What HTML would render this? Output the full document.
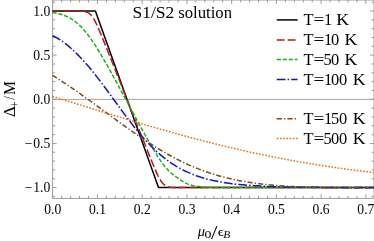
<!DOCTYPE html>
<html><head><meta charset="utf-8"><title>plot</title>
<style>html,body{margin:0;padding:0;background:#fff;}svg{display:block;will-change:transform;}text{font-family:"Liberation Serif",serif;fill:#000;}</style></head>
<body>
<svg width="374" height="241" viewBox="0 0 374 241">
<rect x="0" y="0" width="374" height="241" fill="#fff"/>
<defs><clipPath id="c"><rect x="52.00" y="0.00" width="322.00" height="198.40"/></clipPath></defs>
<line x1="52.60" y1="99.40" x2="374" y2="99.40" stroke="#a6a6a6" stroke-width="1"/>
<g stroke="#9c9c9c" stroke-width="1" fill="none">
<rect x="52.60" y="0.00" width="321.40" height="198.40"/>
<path d="M52.70 198.40 v-4.00 M52.70 0.00 v4.00 M61.65 198.40 v-2.50 M61.65 0.00 v2.50 M70.60 198.40 v-2.50 M70.60 0.00 v2.50 M79.54 198.40 v-2.50 M79.54 0.00 v2.50 M88.49 198.40 v-2.50 M88.49 0.00 v2.50 M97.44 198.40 v-4.00 M97.44 0.00 v4.00 M106.39 198.40 v-2.50 M106.39 0.00 v2.50 M115.34 198.40 v-2.50 M115.34 0.00 v2.50 M124.28 198.40 v-2.50 M124.28 0.00 v2.50 M133.23 198.40 v-2.50 M133.23 0.00 v2.50 M142.18 198.40 v-4.00 M142.18 0.00 v4.00 M151.13 198.40 v-2.50 M151.13 0.00 v2.50 M160.08 198.40 v-2.50 M160.08 0.00 v2.50 M169.02 198.40 v-2.50 M169.02 0.00 v2.50 M177.97 198.40 v-2.50 M177.97 0.00 v2.50 M186.92 198.40 v-4.00 M186.92 0.00 v4.00 M195.87 198.40 v-2.50 M195.87 0.00 v2.50 M204.82 198.40 v-2.50 M204.82 0.00 v2.50 M213.76 198.40 v-2.50 M213.76 0.00 v2.50 M222.71 198.40 v-2.50 M222.71 0.00 v2.50 M231.66 198.40 v-4.00 M231.66 0.00 v4.00 M240.61 198.40 v-2.50 M240.61 0.00 v2.50 M249.56 198.40 v-2.50 M249.56 0.00 v2.50 M258.50 198.40 v-2.50 M258.50 0.00 v2.50 M267.45 198.40 v-2.50 M267.45 0.00 v2.50 M276.40 198.40 v-4.00 M276.40 0.00 v4.00 M285.35 198.40 v-2.50 M285.35 0.00 v2.50 M294.30 198.40 v-2.50 M294.30 0.00 v2.50 M303.24 198.40 v-2.50 M303.24 0.00 v2.50 M312.19 198.40 v-2.50 M312.19 0.00 v2.50 M321.14 198.40 v-4.00 M321.14 0.00 v4.00 M330.09 198.40 v-2.50 M330.09 0.00 v2.50 M339.04 198.40 v-2.50 M339.04 0.00 v2.50 M347.98 198.40 v-2.50 M347.98 0.00 v2.50 M356.93 198.40 v-2.50 M356.93 0.00 v2.50 M365.88 198.40 v-4.00 M365.88 0.00 v4.00 M52.60 196.43 h2.50 M374.00 196.43 h-2.50 M52.60 187.60 h4.00 M374.00 187.60 h-4.00 M52.60 178.77 h2.50 M374.00 178.77 h-2.50 M52.60 169.94 h2.50 M374.00 169.94 h-2.50 M52.60 161.11 h2.50 M374.00 161.11 h-2.50 M52.60 152.28 h2.50 M374.00 152.28 h-2.50 M52.60 143.45 h4.00 M374.00 143.45 h-4.00 M52.60 134.62 h2.50 M374.00 134.62 h-2.50 M52.60 125.79 h2.50 M374.00 125.79 h-2.50 M52.60 116.96 h2.50 M374.00 116.96 h-2.50 M52.60 108.13 h2.50 M374.00 108.13 h-2.50 M52.60 99.30 h4.00 M374.00 99.30 h-4.00 M52.60 90.47 h2.50 M374.00 90.47 h-2.50 M52.60 81.64 h2.50 M374.00 81.64 h-2.50 M52.60 72.81 h2.50 M374.00 72.81 h-2.50 M52.60 63.98 h2.50 M374.00 63.98 h-2.50 M52.60 55.15 h4.00 M374.00 55.15 h-4.00 M52.60 46.32 h2.50 M374.00 46.32 h-2.50 M52.60 37.49 h2.50 M374.00 37.49 h-2.50 M52.60 28.66 h2.50 M374.00 28.66 h-2.50 M52.60 19.83 h2.50 M374.00 19.83 h-2.50 M52.60 11.00 h4.00 M374.00 11.00 h-4.00 M52.60 2.17 h2.50 M374.00 2.17 h-2.50"/>
</g>
<g clip-path="url(#c)" fill="none" stroke-width="1.50" stroke-linejoin="round">
<path d="M52.50 11.00 L95.40 11.00 L158.52 187.60 L379.76 187.60" stroke="#000000"/>
<path d="M52.50 11.00 L54.32 11.00 L56.13 11.00 L57.95 11.00 L59.76 11.00 L61.58 11.00 L63.39 11.00 L65.21 11.00 L67.03 11.00 L68.84 11.00 L70.66 11.00 L72.47 11.01 L74.29 11.01 L76.10 11.03 L77.92 11.05 L79.74 11.10 L81.55 11.19 L83.37 11.35 L85.18 11.66 L87.00 12.20 L88.81 13.13 L90.63 14.62 L92.45 16.81 L94.26 19.70 L96.08 23.20 L97.89 27.13 L99.71 31.33 L101.52 35.69 L103.34 40.15 L105.16 44.65 L106.97 49.17 L108.79 53.71 L110.60 58.26 L112.42 62.81 L114.24 67.37 L116.05 71.92 L117.87 76.48 L119.68 81.03 L121.50 85.59 L123.31 90.14 L125.13 94.70 L126.95 99.26 L128.76 103.81 L130.58 108.37 L132.39 112.92 L134.21 117.48 L136.02 122.04 L137.84 126.59 L139.66 131.15 L141.47 135.70 L143.29 140.25 L145.10 144.80 L146.92 149.34 L148.73 153.87 L150.55 158.37 L152.37 162.82 L154.18 167.19 L156.00 171.39 L157.81 175.33 L159.63 178.83 L161.44 181.74 L163.26 183.94 L165.08 185.44 L166.89 186.39 L168.71 186.94 L170.52 187.24 L172.34 187.41 L174.15 187.50 L175.97 187.55 L177.79 187.57 L179.60 187.59 L181.42 187.59 L183.23 187.60 L185.05 187.60 L186.86 187.60 L188.68 187.60 L190.50 187.60 L192.31 187.60 L194.13 187.60 L195.94 187.60 L197.76 187.60 L199.57 187.60 L201.39 187.60 L203.21 187.60 L205.02 187.60 L206.84 187.60 L208.65 187.60 L210.47 187.60 L212.29 187.60 L214.10 187.60 L215.92 187.60 L217.73 187.60 L219.55 187.60 L221.36 187.60 L223.18 187.60 L225.00 187.60 L226.81 187.60 L228.63 187.60 L230.44 187.60 L232.26 187.60 L234.07 187.60 L235.89 187.60 L237.71 187.60 L239.52 187.60 L241.34 187.60 L243.15 187.60 L244.97 187.60 L246.78 187.60 L248.60 187.60 L250.42 187.60 L252.23 187.60 L254.05 187.60 L255.86 187.60 L257.68 187.60 L259.49 187.60 L261.31 187.60 L263.13 187.60 L264.94 187.60 L266.76 187.60 L268.57 187.60 L270.39 187.60 L272.20 187.60 L274.02 187.60 L275.84 187.60 L277.65 187.60 L279.47 187.60 L281.28 187.60 L283.10 187.60 L284.91 187.60 L286.73 187.60 L288.55 187.60 L290.36 187.60 L292.18 187.60 L293.99 187.60 L295.81 187.60 L297.62 187.60 L299.44 187.60 L301.26 187.60 L303.07 187.60 L304.89 187.60 L306.70 187.60 L308.52 187.60 L310.34 187.60 L312.15 187.60 L313.97 187.60 L315.78 187.60 L317.60 187.60 L319.41 187.60 L321.23 187.60 L323.05 187.60 L324.86 187.60 L326.68 187.60 L328.49 187.60 L330.31 187.60 L332.12 187.60 L333.94 187.60 L335.76 187.60 L337.57 187.60 L339.39 187.60 L341.20 187.60 L343.02 187.60 L344.83 187.60 L346.65 187.60 L348.47 187.60 L350.28 187.60 L352.10 187.60 L353.91 187.60 L355.73 187.60 L357.54 187.60 L359.36 187.60 L361.18 187.60 L362.99 187.60 L364.81 187.60 L366.62 187.60 L368.44 187.60 L370.25 187.60 L372.07 187.60 L373.89 187.60 L375.70 187.60 L377.52 187.60" stroke="#bc1a1a" stroke-dasharray="8 2.9"/>
<path d="M52.50 12.58 L54.32 12.86 L56.13 13.19 L57.95 13.57 L59.76 14.01 L61.58 14.52 L63.39 15.11 L65.21 15.79 L67.03 16.57 L68.84 17.45 L70.66 18.45 L72.47 19.58 L74.29 20.84 L76.10 22.23 L77.92 23.77 L79.74 25.46 L81.55 27.29 L83.37 29.26 L85.18 31.38 L87.00 33.64 L88.81 36.02 L90.63 38.52 L92.45 41.14 L94.26 43.86 L96.08 46.67 L97.89 49.56 L99.71 52.53 L101.52 55.57 L103.34 58.66 L105.16 61.80 L106.97 64.99 L108.79 68.21 L110.60 71.47 L112.42 74.75 L114.24 78.05 L116.05 81.38 L117.87 84.72 L119.68 88.07 L121.50 91.43 L123.31 94.80 L125.13 98.18 L126.95 101.56 L128.76 104.94 L130.58 108.32 L132.39 111.70 L134.21 115.07 L136.02 118.43 L137.84 121.78 L139.66 125.12 L141.47 128.44 L143.29 131.74 L145.10 135.01 L146.92 138.24 L148.73 141.44 L150.55 144.59 L152.37 147.69 L154.18 150.72 L156.00 153.68 L157.81 156.55 L159.63 159.30 L161.44 161.94 L163.26 164.42 L165.08 166.72 L166.89 168.83 L168.71 170.73 L170.52 172.45 L172.34 173.99 L174.15 175.42 L175.97 176.77 L177.79 178.08 L179.60 179.35 L181.42 180.57 L183.23 181.72 L185.05 182.74 L186.86 183.62 L188.68 184.36 L190.50 184.96 L192.31 185.45 L194.13 185.83 L195.94 186.14 L197.76 186.40 L199.57 186.60 L201.39 186.77 L203.21 186.92 L205.02 187.03 L206.84 187.13 L208.65 187.21 L210.47 187.28 L212.29 187.33 L214.10 187.38 L215.92 187.42 L217.73 187.45 L219.55 187.48 L221.36 187.50 L223.18 187.51 L225.00 187.53 L226.81 187.54 L228.63 187.55 L230.44 187.56 L232.26 187.57 L234.07 187.57 L235.89 187.58 L237.71 187.58 L239.52 187.58 L241.34 187.59 L243.15 187.59 L244.97 187.59 L246.78 187.59 L248.60 187.59 L250.42 187.60 L252.23 187.60 L254.05 187.60 L255.86 187.60 L257.68 187.60 L259.49 187.60 L261.31 187.60 L263.13 187.60 L264.94 187.60 L266.76 187.60 L268.57 187.60 L270.39 187.60 L272.20 187.60 L274.02 187.60 L275.84 187.60 L277.65 187.60 L279.47 187.60 L281.28 187.60 L283.10 187.60 L284.91 187.60 L286.73 187.60 L288.55 187.60 L290.36 187.60 L292.18 187.60 L293.99 187.60 L295.81 187.60 L297.62 187.60 L299.44 187.60 L301.26 187.60 L303.07 187.60 L304.89 187.60 L306.70 187.60 L308.52 187.60 L310.34 187.60 L312.15 187.60 L313.97 187.60 L315.78 187.60 L317.60 187.60 L319.41 187.60 L321.23 187.60 L323.05 187.60 L324.86 187.60 L326.68 187.60 L328.49 187.60 L330.31 187.60 L332.12 187.60 L333.94 187.60 L335.76 187.60 L337.57 187.60 L339.39 187.60 L341.20 187.60 L343.02 187.60 L344.83 187.60 L346.65 187.60 L348.47 187.60 L350.28 187.60 L352.10 187.60 L353.91 187.60 L355.73 187.60 L357.54 187.60 L359.36 187.60 L361.18 187.60 L362.99 187.60 L364.81 187.60 L366.62 187.60 L368.44 187.60 L370.25 187.60 L372.07 187.60 L373.89 187.60 L375.70 187.60 L377.52 187.60" stroke="#14b414" stroke-dasharray="4.2 1.8"/>
<path d="M52.50 35.75 L54.32 36.55 L56.13 37.47 L57.95 38.50 L59.76 39.62 L61.58 40.83 L63.39 42.11 L65.21 43.48 L67.03 44.91 L68.84 46.41 L70.66 47.98 L72.47 49.61 L74.29 51.30 L76.10 53.05 L77.92 54.86 L79.74 56.73 L81.55 58.65 L83.37 60.62 L85.18 62.65 L87.00 64.72 L88.81 66.85 L90.63 69.02 L92.45 71.24 L94.26 73.50 L96.08 75.79 L97.89 78.12 L99.71 80.49 L101.52 82.89 L103.34 85.31 L105.16 87.76 L106.97 90.22 L108.79 92.70 L110.60 95.20 L112.42 97.70 L114.24 100.20 L116.05 102.71 L117.87 105.21 L119.68 107.70 L121.50 110.19 L123.31 112.65 L125.13 115.10 L126.95 117.52 L128.76 119.92 L130.58 122.29 L132.39 124.62 L134.21 126.92 L136.02 129.18 L137.84 131.40 L139.66 133.57 L141.47 135.70 L143.29 137.78 L145.10 139.81 L146.92 141.79 L148.73 143.71 L150.55 145.58 L152.37 147.40 L154.18 149.16 L156.00 150.87 L157.81 152.52 L159.63 154.12 L161.44 155.66 L163.26 157.15 L165.08 158.58 L166.89 159.96 L168.71 161.29 L170.52 162.56 L172.34 163.78 L174.15 164.95 L175.97 166.08 L177.79 167.15 L179.60 168.18 L181.42 169.17 L183.23 170.11 L185.05 171.01 L186.86 171.86 L188.68 172.68 L190.50 173.46 L192.31 174.20 L194.13 174.91 L195.94 175.58 L197.76 176.22 L199.57 176.83 L201.39 177.40 L203.21 177.95 L205.02 178.47 L206.84 178.97 L208.65 179.44 L210.47 179.88 L212.29 180.30 L214.10 180.70 L215.92 181.08 L217.73 181.44 L219.55 181.78 L221.36 182.10 L223.18 182.41 L225.00 182.70 L226.81 182.97 L228.63 183.23 L230.44 183.47 L232.26 183.70 L234.07 183.92 L235.89 184.13 L237.71 184.32 L239.52 184.51 L241.34 184.68 L243.15 184.84 L244.97 185.00 L246.78 185.15 L248.60 185.29 L250.42 185.42 L252.23 185.54 L254.05 185.66 L255.86 185.77 L257.68 185.87 L259.49 185.97 L261.31 186.06 L263.13 186.15 L264.94 186.23 L266.76 186.31 L268.57 186.38 L270.39 186.45 L272.20 186.52 L274.02 186.58 L275.84 186.64 L277.65 186.69 L279.47 186.74 L281.28 186.79 L283.10 186.84 L284.91 186.88 L286.73 186.92 L288.55 186.96 L290.36 187.00 L292.18 187.03 L293.99 187.07 L295.81 187.10 L297.62 187.13 L299.44 187.15 L301.26 187.18 L303.07 187.20 L304.89 187.23 L306.70 187.25 L308.52 187.27 L310.34 187.29 L312.15 187.30 L313.97 187.32 L315.78 187.34 L317.60 187.35 L319.41 187.37 L321.23 187.38 L323.05 187.39 L324.86 187.40 L326.68 187.42 L328.49 187.43 L330.31 187.44 L332.12 187.45 L333.94 187.45 L335.76 187.46 L337.57 187.47 L339.39 187.48 L341.20 187.49 L343.02 187.49 L344.83 187.50 L346.65 187.50 L348.47 187.51 L350.28 187.51 L352.10 187.52 L353.91 187.52 L355.73 187.53 L357.54 187.53 L359.36 187.54 L361.18 187.54 L362.99 187.54 L364.81 187.55 L366.62 187.55 L368.44 187.55 L370.25 187.56 L372.07 187.56 L373.89 187.56 L375.70 187.56 L377.52 187.56" stroke="#1414c8" stroke-dasharray="8.8 2.1 1.5 2.1"/>
<path d="M52.50 75.33 L54.32 76.47 L56.13 77.62 L57.95 78.78 L59.76 79.95 L61.58 81.14 L63.39 82.33 L65.21 83.54 L67.03 84.75 L68.84 85.97 L70.66 87.20 L72.47 88.45 L74.29 89.70 L76.10 90.95 L77.92 92.22 L79.74 93.49 L81.55 94.77 L83.37 96.06 L85.18 97.35 L87.00 98.65 L88.81 99.96 L90.63 101.26 L92.45 102.58 L94.26 103.90 L96.08 105.22 L97.89 106.54 L99.71 107.87 L101.52 109.20 L103.34 110.53 L105.16 111.86 L106.97 113.19 L108.79 114.52 L110.60 115.85 L112.42 117.18 L114.24 118.51 L116.05 119.84 L117.87 121.16 L119.68 122.48 L121.50 123.80 L123.31 125.11 L125.13 126.41 L126.95 127.71 L128.76 129.01 L130.58 130.30 L132.39 131.57 L134.21 132.85 L136.02 134.11 L137.84 135.36 L139.66 136.60 L141.47 137.84 L143.29 139.06 L145.10 140.27 L146.92 141.47 L148.73 142.66 L150.55 143.83 L152.37 144.99 L154.18 146.14 L156.00 147.27 L157.81 148.39 L159.63 149.49 L161.44 150.58 L163.26 151.65 L165.08 152.70 L166.89 153.74 L168.71 154.76 L170.52 155.76 L172.34 156.75 L174.15 157.72 L175.97 158.67 L177.79 159.60 L179.60 160.52 L181.42 161.42 L183.23 162.29 L185.05 163.15 L186.86 163.99 L188.68 164.82 L190.50 165.62 L192.31 166.40 L194.13 167.17 L195.94 167.92 L197.76 168.64 L199.57 169.35 L201.39 170.05 L203.21 170.72 L205.02 171.37 L206.84 172.01 L208.65 172.63 L210.47 173.23 L212.29 173.81 L214.10 174.38 L215.92 174.93 L217.73 175.46 L219.55 175.98 L221.36 176.48 L223.18 176.96 L225.00 177.43 L226.81 177.88 L228.63 178.32 L230.44 178.74 L232.26 179.15 L234.07 179.54 L235.89 179.92 L237.71 180.29 L239.52 180.64 L241.34 180.98 L243.15 181.31 L244.97 181.63 L246.78 181.93 L248.60 182.22 L250.42 182.50 L252.23 182.77 L254.05 183.03 L255.86 183.28 L257.68 183.52 L259.49 183.74 L261.31 183.96 L263.13 184.17 L264.94 184.38 L266.76 184.57 L268.57 184.75 L270.39 184.93 L272.20 185.10 L274.02 185.26 L275.84 185.41 L277.65 185.56 L279.47 185.70 L281.28 185.83 L283.10 185.96 L284.91 186.08 L286.73 186.20 L288.55 186.31 L290.36 186.41 L292.18 186.51 L293.99 186.61 L295.81 186.70 L297.62 186.78 L299.44 186.86 L301.26 186.94 L303.07 187.02 L304.89 187.08 L306.70 187.15 L308.52 187.21 L310.34 187.27 L312.15 187.33 L313.97 187.38 L315.78 187.43 L317.60 187.47 L319.41 187.52 L321.23 187.56 L323.05 187.60 L324.86 187.63 L326.68 187.67 L328.49 187.70 L330.31 187.73 L332.12 187.76 L333.94 187.78 L335.76 187.81 L337.57 187.83 L339.39 187.85 L341.20 187.87 L343.02 187.89 L344.83 187.90 L346.65 187.92 L348.47 187.93 L350.28 187.95 L352.10 187.96 L353.91 187.97 L355.73 187.98 L357.54 187.99 L359.36 187.99 L361.18 188.00 L362.99 188.01 L364.81 188.01 L366.62 188.02 L368.44 188.02 L370.25 188.02 L372.07 188.02 L373.89 188.03 L375.70 188.03 L377.52 188.03" stroke="#7a4a1e" stroke-dasharray="5.2 2.1 1.3 2.1"/>
<path d="M52.50 96.42 L54.32 96.97 L56.13 97.53 L57.95 98.09 L59.76 98.65 L61.58 99.20 L63.39 99.76 L65.21 100.32 L67.03 100.88 L68.84 101.44 L70.66 102.01 L72.47 102.57 L74.29 103.13 L76.10 103.69 L77.92 104.25 L79.74 104.81 L81.55 105.37 L83.37 105.94 L85.18 106.50 L87.00 107.06 L88.81 107.62 L90.63 108.18 L92.45 108.74 L94.26 109.30 L96.08 109.86 L97.89 110.42 L99.71 110.98 L101.52 111.54 L103.34 112.10 L105.16 112.66 L106.97 113.21 L108.79 113.77 L110.60 114.33 L112.42 114.88 L114.24 115.44 L116.05 115.99 L117.87 116.55 L119.68 117.10 L121.50 117.65 L123.31 118.20 L125.13 118.75 L126.95 119.30 L128.76 119.84 L130.58 120.39 L132.39 120.93 L134.21 121.48 L136.02 122.02 L137.84 122.56 L139.66 123.10 L141.47 123.64 L143.29 124.18 L145.10 124.71 L146.92 125.25 L148.73 125.78 L150.55 126.31 L152.37 126.84 L154.18 127.37 L156.00 127.89 L157.81 128.42 L159.63 128.94 L161.44 129.46 L163.26 129.98 L165.08 130.50 L166.89 131.01 L168.71 131.52 L170.52 132.04 L172.34 132.54 L174.15 133.05 L175.97 133.56 L177.79 134.06 L179.60 134.56 L181.42 135.06 L183.23 135.56 L185.05 136.05 L186.86 136.54 L188.68 137.03 L190.50 137.52 L192.31 138.00 L194.13 138.49 L195.94 138.97 L197.76 139.45 L199.57 139.92 L201.39 140.39 L203.21 140.86 L205.02 141.33 L206.84 141.80 L208.65 142.26 L210.47 142.72 L212.29 143.18 L214.10 143.63 L215.92 144.09 L217.73 144.54 L219.55 144.98 L221.36 145.43 L223.18 145.87 L225.00 146.31 L226.81 146.74 L228.63 147.18 L230.44 147.61 L232.26 148.04 L234.07 148.46 L235.89 148.88 L237.71 149.30 L239.52 149.72 L241.34 150.13 L243.15 150.54 L244.97 150.95 L246.78 151.36 L248.60 151.76 L250.42 152.16 L252.23 152.56 L254.05 152.95 L255.86 153.34 L257.68 153.73 L259.49 154.11 L261.31 154.49 L263.13 154.87 L264.94 155.25 L266.76 155.62 L268.57 155.99 L270.39 156.36 L272.20 156.72 L274.02 157.08 L275.84 157.44 L277.65 157.79 L279.47 158.15 L281.28 158.50 L283.10 158.84 L284.91 159.18 L286.73 159.52 L288.55 159.86 L290.36 160.20 L292.18 160.53 L293.99 160.86 L295.81 161.18 L297.62 161.50 L299.44 161.82 L301.26 162.14 L303.07 162.45 L304.89 162.76 L306.70 163.07 L308.52 163.38 L310.34 163.68 L312.15 163.98 L313.97 164.28 L315.78 164.57 L317.60 164.86 L319.41 165.15 L321.23 165.43 L323.05 165.71 L324.86 165.99 L326.68 166.27 L328.49 166.54 L330.31 166.82 L332.12 167.08 L333.94 167.35 L335.76 167.61 L337.57 167.87 L339.39 168.13 L341.20 168.38 L343.02 168.64 L344.83 168.89 L346.65 169.13 L348.47 169.38 L350.28 169.62 L352.10 169.86 L353.91 170.09 L355.73 170.33 L357.54 170.56 L359.36 170.79 L361.18 171.01 L362.99 171.24 L364.81 171.46 L366.62 171.68 L368.44 171.89 L370.25 172.10 L372.07 172.32 L373.89 172.52 L375.70 172.73 L377.52 172.94" stroke="#e8781e" stroke-dasharray="1.7 1.5"/>
</g>
<text transform="translate(52.70 213.70) scale(1.000 1.075)" font-size="13.65" text-anchor="middle">0.0</text>
<text transform="translate(97.44 213.70) scale(1.000 1.075)" font-size="13.65" text-anchor="middle">0.1</text>
<text transform="translate(142.18 213.70) scale(1.000 1.075)" font-size="13.65" text-anchor="middle">0.2</text>
<text transform="translate(186.92 213.70) scale(1.000 1.075)" font-size="13.65" text-anchor="middle">0.3</text>
<text transform="translate(231.66 213.70) scale(1.000 1.075)" font-size="13.65" text-anchor="middle">0.4</text>
<text transform="translate(276.40 213.70) scale(1.000 1.075)" font-size="13.65" text-anchor="middle">0.5</text>
<text transform="translate(321.14 213.70) scale(1.000 1.075)" font-size="13.65" text-anchor="middle">0.6</text>
<text transform="translate(365.88 213.70) scale(1.000 1.075)" font-size="13.65" text-anchor="middle">0.7</text>
<text transform="translate(50.30 15.80) scale(1.000 1.075)" font-size="13.65" text-anchor="end">1.0</text>
<text transform="translate(50.30 59.95) scale(1.000 1.075)" font-size="13.65" text-anchor="end">0.5</text>
<text transform="translate(50.30 104.10) scale(1.000 1.075)" font-size="13.65" text-anchor="end">0.0</text>
<text transform="translate(50.30 148.25) scale(1.000 1.075)" font-size="13.65" text-anchor="end">0.5</text>
<text transform="translate(24.60 148.25) scale(1.000 1.075)" font-size="13.65" text-anchor="start">−</text>
<text transform="translate(50.30 192.40) scale(1.000 1.075)" font-size="13.65" text-anchor="end">1.0</text>
<text transform="translate(24.60 192.40) scale(1.000 1.075)" font-size="13.65" text-anchor="start">−</text>
<text transform="translate(132.53 17.50) scale(1.047 1.000)" font-size="16.70" text-anchor="start">S1/S2</text>
<text transform="translate(178.20 17.50) scale(1.000 1.000)" font-size="16.70" text-anchor="start">solution</text>
<line x1="276.7" y1="19.90" x2="297.6" y2="19.90" stroke="#000000" stroke-width="1.50"/>
<text transform="translate(303.40 24.70) scale(1.000 0.980)" font-size="16.40" text-anchor="start">T</text>
<text transform="translate(313.50 24.70) scale(1.170 0.980)" font-size="16.40" text-anchor="start">=</text>
<text transform="translate(324.10 24.70) scale(1.000 0.980)" font-size="16.40" text-anchor="start">1</text>
<text transform="translate(336.20 24.70) scale(1.080 0.980)" font-size="16.40" text-anchor="start">K</text>
<line x1="276.7" y1="40.00" x2="297.6" y2="40.00" stroke="#bc1a1a" stroke-width="1.50" stroke-dasharray="8 2.9"/>
<text transform="translate(303.40 45.00) scale(1.000 0.980)" font-size="16.40" text-anchor="start">T</text>
<text transform="translate(313.50 45.00) scale(1.170 0.980)" font-size="16.40" text-anchor="start">=</text>
<text transform="translate(324.10 45.00) scale(1.000 0.980)" font-size="16.40" text-anchor="start">1</text>
<text transform="translate(330.9 45.00) scale(1 0.980)" font-size="16.40" x="0.00">0</text>
<text transform="translate(344.60 45.00) scale(1.080 0.980)" font-size="16.40" text-anchor="start">K</text>
<line x1="276.7" y1="59.60" x2="297.6" y2="59.60" stroke="#14b414" stroke-width="1.50" stroke-dasharray="4.2 1.8"/>
<text transform="translate(303.40 64.70) scale(1.000 0.980)" font-size="16.40" text-anchor="start">T</text>
<text transform="translate(313.50 64.70) scale(1.170 0.980)" font-size="16.40" text-anchor="start">=</text>
<text transform="translate(323.60 64.70) scale(1.000 0.980)" font-size="16.40" text-anchor="start">5</text>
<text transform="translate(330.9 64.70) scale(1 0.980)" font-size="16.40" x="0.00">0</text>
<text transform="translate(344.60 64.70) scale(1.080 0.980)" font-size="16.40" text-anchor="start">K</text>
<line x1="276.7" y1="79.60" x2="297.6" y2="79.60" stroke="#1414c8" stroke-width="1.50" stroke-dasharray="8.8 2.1 1.5 2.1"/>
<text transform="translate(303.40 84.60) scale(1.000 0.980)" font-size="16.40" text-anchor="start">T</text>
<text transform="translate(313.50 84.60) scale(1.170 0.980)" font-size="16.40" text-anchor="start">=</text>
<text transform="translate(324.10 84.60) scale(1.000 0.980)" font-size="16.40" text-anchor="start">1</text>
<text transform="translate(330.9 84.60) scale(1 0.980)" font-size="16.40" x="0.00 8.20">00</text>
<text transform="translate(352.80 84.60) scale(1.080 0.980)" font-size="16.40" text-anchor="start">K</text>
<line x1="276.7" y1="118.80" x2="297.6" y2="118.80" stroke="#7a4a1e" stroke-width="1.50" stroke-dasharray="5.2 2.1 1.3 2.1"/>
<text transform="translate(303.40 123.90) scale(1.000 0.980)" font-size="16.40" text-anchor="start">T</text>
<text transform="translate(313.50 123.90) scale(1.170 0.980)" font-size="16.40" text-anchor="start">=</text>
<text transform="translate(324.10 123.90) scale(1.000 0.980)" font-size="16.40" text-anchor="start">1</text>
<text transform="translate(330.9 123.90) scale(1 0.980)" font-size="16.40" x="0.00 8.20">50</text>
<text transform="translate(352.80 123.90) scale(1.080 0.980)" font-size="16.40" text-anchor="start">K</text>
<line x1="276.7" y1="138.40" x2="297.6" y2="138.40" stroke="#e8781e" stroke-width="1.50" stroke-dasharray="1.7 1.5"/>
<text transform="translate(303.40 143.50) scale(1.000 0.980)" font-size="16.40" text-anchor="start">T</text>
<text transform="translate(313.50 143.50) scale(1.170 0.980)" font-size="16.40" text-anchor="start">=</text>
<text transform="translate(323.60 143.50) scale(1.000 0.980)" font-size="16.40" text-anchor="start">5</text>
<text transform="translate(330.9 143.50) scale(1 0.980)" font-size="16.40" x="0.00 8.20">00</text>
<text transform="translate(352.80 143.50) scale(1.080 0.980)" font-size="16.40" text-anchor="start">K</text>
<g transform="translate(15.1 117.0) rotate(-90)">
<text transform="translate(0.00 0.00) scale(1.000 1.000)" font-size="16.40" text-anchor="start">Δ</text>
<text transform="translate(8.90 3.70) scale(1.000 1.000)" font-size="11.60" text-anchor="start">+</text>
<text transform="translate(17.30 0.00) scale(0.750 1.000)" font-size="17.00" text-anchor="start">/</text>
<text transform="translate(22.00 0.00) scale(1.000 1.000)" font-size="15.80" text-anchor="start">M</text>
</g>
<text transform="translate(197.70 236.00) scale(1.000 1.000)" font-size="14.50" text-anchor="start" font-style="italic">μ</text>
<text transform="translate(204.40 238.10) scale(1.250 1.000)" font-size="11.10" text-anchor="start">0</text>
<text transform="translate(210.90 238.50) scale(1.200 1.000)" font-size="19.50" text-anchor="start">/</text>
<text transform="translate(217.80 236.00) scale(1.150 1.000)" font-size="13.50" text-anchor="start">ϵ</text>
<text transform="translate(223.30 238.20) scale(1.000 1.000)" font-size="11.40" text-anchor="start" font-style="italic">B</text>
</svg>
</body></html>
